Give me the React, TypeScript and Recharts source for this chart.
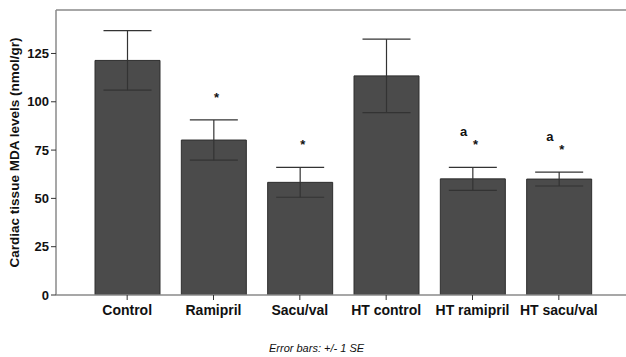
import React from 'react';
import {
  ComposedChart,
  Bar,
  Scatter,
  ErrorBar,
  XAxis,
  YAxis,
  ReferenceLine,
} from 'recharts';

const groups = ['Control', 'Ramipril', 'Sacu/val', 'HT control', 'HT ramipril', 'HT sacu/val'];
const meanMda = [121.4, 80.2, 58.3, 113.4, 60.1, 60.0];
const seMda = [15.4, 10.4, 7.7, 19.0, 6.0, 3.6];
const starMarks = ['', '*', '*', '', '*', '*'];
const letterMarks = ['', '', '', '', 'a', 'a'];
const yTicks = [0, 25, 50, 75, 100, 125];
const yMax = 147.5;

const FONT = 'Arial, "Liberation Sans", sans-serif';
const FRAME = '#8a8a8a';

const data = groups.map((group, i) => ({
  group,
  mean: meanMda[i],
  se: seMda[i],
  errTop: meanMda[i] + seMda[i],
  star: starMarks[i],
  letter: letterMarks[i],
}));

// marks sit above the top of each error bar
function Marks(props: any) {
  const { cx, cy, payload } = props;
  return (
    <g fontFamily={FONT} fontWeight="bold" fill="#111">
      {payload.letter && (
        <text x={cx - 9} y={cy - 31} fontSize={13} textAnchor="middle">
          {payload.letter}
        </text>
      )}
      {payload.star && (
        <text x={cx + 3} y={cy - 18} fontSize={13} textAnchor="middle">
          {payload.star}
        </text>
      )}
    </g>
  );
}

export default function App() {
  return (
    <div style={{ position: 'absolute', left: 0, top: 0, width: 626, height: 357, background: '#fff' }}>
      <ComposedChart
        width={626}
        height={357}
        data={data}
        margin={{ top: 10, right: 0, bottom: 32, left: 0 }}
      >
        <XAxis
          dataKey="group"
          padding={{ left: 28, right: 24 }}
          axisLine={{ stroke: FRAME, strokeWidth: 1.5 }}
          tickLine={{ stroke: '#333' }}
          tickSize={5}
          tickMargin={5}
          height={30}
          interval={0}
          tick={{ fontFamily: FONT, fontSize: 14, fontWeight: 'bold', fill: '#111' }}
        />
        <YAxis
          width={56}
          domain={[0, yMax]}
          ticks={yTicks}
          allowDataOverflow
          axisLine={{ stroke: FRAME, strokeWidth: 1.5 }}
          tickLine={{ stroke: '#333' }}
          tickSize={5}
          tick={{ fontFamily: FONT, fontSize: 13, fontWeight: 'bold', fill: '#111' }}
          label={{
            value: 'Cardiac tissue MDA levels (nmol/gr)',
            angle: -90,
            position: 'center',
            dx: -14,
            style: { fontFamily: FONT, fontSize: 13.5, fontWeight: 'bold', fill: '#111', textAnchor: 'middle' },
          }}
        />
        <ReferenceLine y={yMax} stroke={FRAME} strokeWidth={1.5} />
        <Bar dataKey="mean" fill="#4b4b4b" stroke="#2e2e2e" strokeWidth={1} barSize={65} isAnimationActive={false}>
          <ErrorBar dataKey="se" width={24} stroke="#333" strokeWidth={1.2} />
        </Bar>
        <Scatter dataKey="errTop" shape={<Marks />} isAnimationActive={false} />
      </ComposedChart>
      <div
        style={{
          position: 'absolute',
          left: 269,
          top: 342,
          fontFamily: FONT,
          fontSize: 11,
          fontStyle: 'italic',
          color: '#111',
          whiteSpace: 'nowrap',
        }}
      >
        Error bars: +/- 1 SE
      </div>
    </div>
  );
}
